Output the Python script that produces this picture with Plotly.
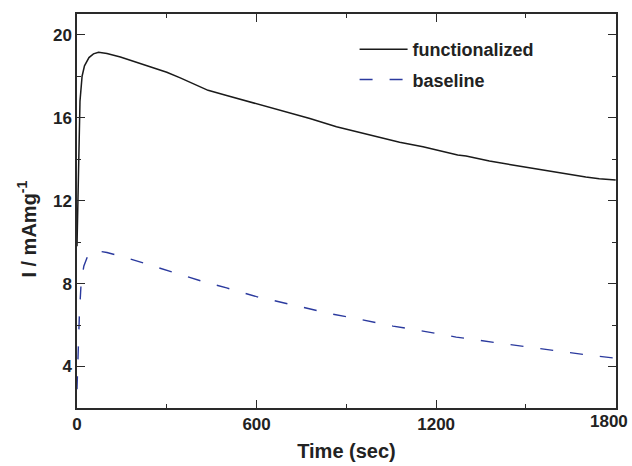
import plotly.graph_objects as go

# functionalized electrode current (mA/mg) vs time (s)
func_t = [0, 3, 6, 10, 17, 25, 40, 55, 72, 100, 145, 222, 300, 345, 438, 500,
          600, 678, 778, 867, 978, 1078, 1156, 1200, 1272, 1300, 1378, 1450,
          1522, 1600, 1635, 1700, 1745, 1800]
func_i = [9.8, 12.0, 14.5, 16.8, 18.0, 18.5, 18.9, 19.08, 19.15, 19.1, 18.93,
          18.56, 18.19, 17.92, 17.32, 17.07, 16.68, 16.36, 15.96, 15.56, 15.19,
          14.82, 14.6, 14.45, 14.2, 14.15, 13.91, 13.73, 13.56, 13.36, 13.27,
          13.14, 13.06, 13.0]

# baseline electrode
base_t = [0, 3, 8, 14, 23, 35, 59, 78, 100, 162, 230, 300, 356, 420, 500, 600,
          745, 850, 950, 1056, 1156, 1267, 1400, 1500, 1600, 1700, 1800]
base_i = [2.9, 4.6, 6.5, 8.1, 8.85, 9.3, 9.58, 9.55, 9.5, 9.26, 8.95, 8.62,
          8.38, 8.1, 7.79, 7.37, 6.89, 6.54, 6.26, 5.95, 5.71, 5.42, 5.15,
          4.95, 4.75, 4.57, 4.4]

x_ticks = [0, 600, 1200, 1800]
x_labels = ["0", "600", "1200", "1800"]
y_ticks = [4, 8, 12, 16, 20]

FONT = "Liberation Sans, Arial, sans-serif"
TICKFONT = dict(family=FONT, size=17, color="#222", weight="bold")

fig = go.Figure()
fig.add_trace(go.Scatter(x=func_t, y=func_i, mode="lines", name="functionalized",
                         legendgroup="a",
                         line=dict(color="#1a1a1a", width=1.5)))
fig.add_trace(go.Scatter(x=base_t, y=base_i, mode="lines", name="baseline",
                         legendgroup="b",
                         line=dict(color="#2b3a9e", width=1.4, dash="13px,17px")))

axis_common = dict(
    showgrid=False, zeroline=False, showline=True, linecolor="#2a2a2a",
    linewidth=1.5, mirror="ticks", ticks="inside", ticklen=8, tickwidth=1.2,
    tickcolor="#2a2a2a", automargin=False, tickfont=TICKFONT,
)

# the last label sits against the right edge of the page, so it is placed
# as an annotation at its tick value, nudged left as in the original
fig.update_xaxes(**axis_common, range=[0, 1801], tickvals=x_ticks,
                 ticktext=x_labels[:-1] + [""],
                 minor=dict(ticks="inside", ticklen=4, dtick=300, tick0=0,
                            tickcolor="#2a2a2a", tickwidth=1.2),
                 title=dict(text="Time (sec)", standoff=11,
                            font=dict(family=FONT, size=20, color="#222", weight="bold")))
fig.add_annotation(text=x_labels[-1], x=x_ticks[-1], xref="x", y=0, yref="paper",
                   xanchor="center", yanchor="top", yshift=-2, xshift=-7,
                   showarrow=False, font=TICKFONT)

fig.update_yaxes(**axis_common, range=[2, 21], tickvals=y_ticks,
                 minor=dict(ticks="inside", ticklen=4, dtick=2, tick0=0,
                            tickcolor="#2a2a2a", tickwidth=1.2))

fig.add_annotation(text="I / mAmg<sup>-1</sup>", xref="paper", yref="paper",
                   x=-0.093, y=0.455, textangle=-90, showarrow=False,
                   xanchor="center", yanchor="middle",
                   font=dict(family=FONT, size=20, color="#222", weight="bold"))

fig.update_layout(
    width=632, height=466,
    margin=dict(l=77, r=16, t=14, b=58),
    paper_bgcolor="white", plot_bgcolor="white",
    showlegend=True,
    legend=dict(x=0.515, y=0.957, xanchor="left", yanchor="top",
                bgcolor="rgba(0,0,0,0)", itemwidth=48, tracegroupgap=4,
                font=dict(family=FONT, size=18, color="#222", weight="bold")),
)

fig.write_html("out.html",
               config={"displayModeBar": False},
               post_script="document.body.style.margin='0';"
                           "document.body.style.overflow='hidden';")
